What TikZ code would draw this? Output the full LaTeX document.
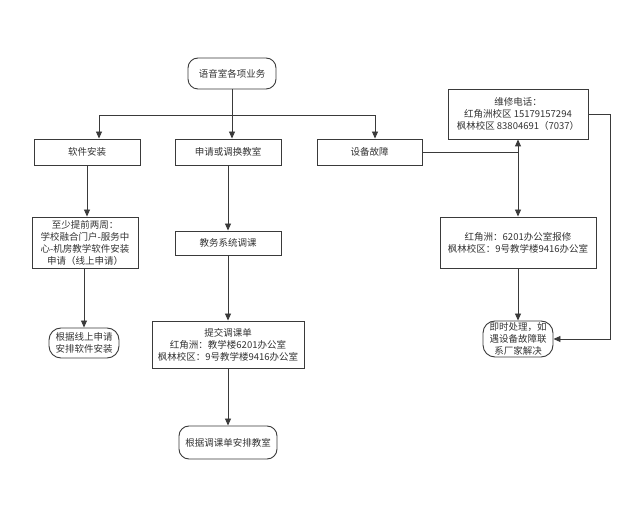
\documentclass[tikz,border=0pt]{standalone}
\usepackage{fontspec}
\setmainfont{Noto Sans CJK SC}
\usetikzlibrary{arrows.meta}
\definecolor{ln}{HTML}{3A3A3A}
\definecolor{tx}{HTML}{333333}
\tikzset{
  base/.style={draw=ln, line width=0.9pt, text=tx, align=center, font=\fontsize{9.5}{12}\selectfont, inner sep=0pt},
  boxr/.style={base, rectangle},
  pill/.style={base, rectangle, rounded corners=10pt},
  arr/.style={draw=ln, line width=0.9pt, -{Triangle[length=7pt,width=6pt]}},
  ln/.style={draw=ln, line width=0.9pt}
}
\begin{document}
\begin{tikzpicture}[x=1pt,y=-1pt]
\useasboundingbox (0,0) rectangle (640,518);
\node[pill, minimum width=88pt, minimum height=31pt] (top) at (232,73.5) {语音室各项业务};
\node[boxr, minimum width=106pt, minimum height=26pt] (soft) at (87,152) {软件安装};
\node[boxr, minimum width=106pt, minimum height=26pt] (apply) at (228,152) {申请或调换教室};
\node[boxr, minimum width=105pt, minimum height=26pt] (fault) at (369.5,152) {设备故障};
\node[boxr, minimum width=140pt, minimum height=50pt] (phone) at (518,114) {维修电话：\\红角洲校区 15179157294\\枫林校区 83804691（7037）};
\node[boxr, minimum width=106pt, minimum height=51pt] (req) at (85,242.5) {至少提前两周：\\学校融合门户-服务中\\心-机房教学软件安装\\申请（线上申请）};
\node[pill, minimum width=70pt, minimum height=30pt, rounded corners=12pt] (arrange) at (84,343) {根据线上申请\\安排软件安装};
\node[boxr, minimum width=106pt, minimum height=24pt] (jwxt) at (228,243) {教务系统调课};
\node[boxr, minimum width=152pt, minimum height=47pt] (submit) at (228,344.5) {提交调课单\\红角洲：教学楼6201办公室\\枫林校区：9号教学楼9416办公室};
\node[pill, minimum width=98pt, minimum height=33pt] (final) at (228,442.5) {根据调课单安排教室};
\node[boxr, minimum width=156pt, minimum height=51pt] (repair) at (518,242.5) {红角洲：6201办公室报修\\枫林校区：9号教学楼9416办公室};
\node[pill, minimum width=70pt, minimum height=36pt, rounded corners=12pt] (imm) at (518,339) {即时处理，如\\遇设备故障联\\系厂家解决};
% top distribution
\coordinate (j) at (232,115);
\draw[ln] (top.south) -- (j);
\draw[arr] (j) -- (j |- apply.north);
\draw[arr] (j) -| ([xshift=12pt]soft.north);
\draw[arr] (j) -| ([xshift=5.5pt]fault.north);
% left column
\draw[arr] (soft.south) -- (soft.south |- req.north);
\draw[arr] (req.south -| arrange.north) -- (arrange.north);
% middle column
\draw[arr] (apply.south) -- (jwxt.north);
\draw[arr] (jwxt.south) -- (submit.north);
\draw[arr] (submit.south) -- (final.north);
% right column
\coordinate (k) at (phone.south |- fault.east);
\draw[ln] (fault.east) -- (k);
\draw[arr] (k) -- (phone.south);
\draw[arr] (k) -- (repair.north);
\draw[arr] (repair.south) -- (imm.north);
\draw[arr] (phone.east) -- ++(22,0) |- (imm.east);
\end{tikzpicture}
\end{document}
